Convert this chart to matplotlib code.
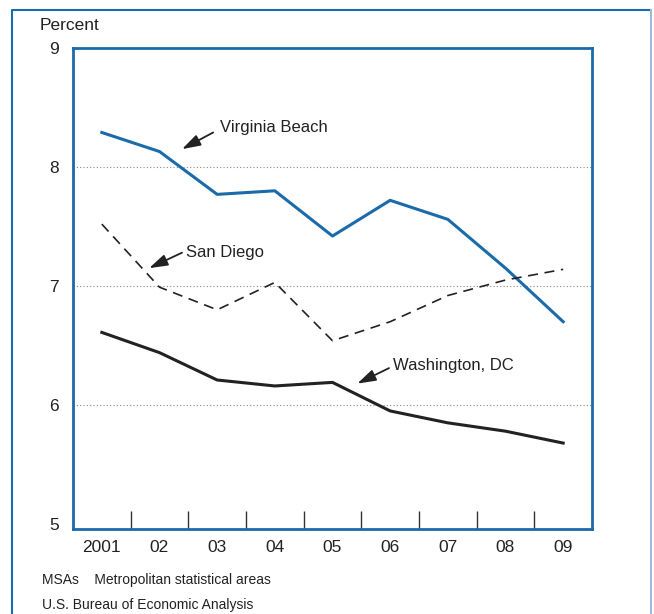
import matplotlib.pyplot as plt
import matplotlib.transforms as mtransforms
from matplotlib.lines import Line2D

# Data (percent)
years = ['2001', '02', '03', '04', '05', '06', '07', '08', '09']
virginia_beach = [8.29, 8.13, 7.77, 7.80, 7.42, 7.72, 7.56, 7.15, 6.70]
san_diego = [7.52, 6.99, 6.80, 7.03, 6.54, 6.70, 6.92, 7.05, 7.14]
washington_dc = [6.61, 6.44, 6.21, 6.16, 6.19, 5.95, 5.85, 5.78, 5.68]

blue = '#1b6aa9'
dark = '#222222'
plt.rcParams['font.family'] = ['Liberation Sans', 'DejaVu Sans']

fig = plt.figure(figsize=(6.54, 6.14), dpi=100)
W, H = 654, 614

# outer frame: blue left and top, pale right edge, open at the bottom
fx0, fx1, fy = 12 / W, 651 / W, 1 - 10 / H
fig.add_artist(Line2D([fx0, fx0, fx1], [0, fy, fy], transform=fig.transFigure,
                      color=blue, linewidth=1.5))
fig.add_artist(Line2D([fx1, fx1], [fy, 0], transform=fig.transFigure,
                      color='#9dbbd6', linewidth=1.5))

ax = fig.add_axes([73 / W, 1 - 529 / H, (592 - 73) / W, (529 - 48) / H])
x = list(range(len(years)))

ax.plot(x, virginia_beach, color=blue, linewidth=2.2)
ax.plot(x, san_diego, color=dark, linewidth=1.2, dashes=(6, 4))
ax.plot(x, washington_dc, color=dark, linewidth=2.2)

ax.set_xlim(-0.5, 8.5)
ax.set_ylim(5 - 5 / 119, 9)
ax.set_yticks([5, 6, 7, 8, 9])
ax.set_yticklabels(['5', '6', '7', '8', '9'])
for yv in [6, 7, 8]:
    ax.axhline(yv, color='#888888', linewidth=0.8, linestyle=(0, (1, 2)), zorder=0)

ax.set_xticks([i + 0.5 for i in range(len(years) - 1)])
ax.set_xticklabels([])
ax.tick_params(axis='x', direction='in', length=13, width=1, color='#333333')
ax.tick_params(axis='y', length=0, pad=10, labelsize=12.5, labelcolor=dark)
offset = mtransforms.ScaledTranslation(0, -19 / 100, fig.dpi_scale_trans)
for i, lab in enumerate(years):
    ax.text(i, 0, lab, transform=ax.get_xaxis_transform() + offset,
            ha='center', va='center', fontsize=12.5, color=dark)

for sp in ax.spines.values():
    sp.set_color(blue)
    sp.set_linewidth(2)

# labels and arrows
arrow = dict(arrowstyle='-|>,head_length=0.8,head_width=0.25', color=dark,
             lw=1.3, mutation_scale=14, shrinkA=0, shrinkB=0)
ax.annotate('', xy=(1.39, 8.15), xytext=(1.93, 8.29), arrowprops=arrow)
ax.annotate('', xy=(0.82, 7.15), xytext=(1.39, 7.28), arrowprops=arrow)
ax.annotate('', xy=(4.43, 6.18), xytext=(4.98, 6.31), arrowprops=arrow)
ax.text(2.05, 8.33, 'Virginia Beach', fontsize=12, color=dark, va='center')
ax.text(1.46, 7.28, 'San Diego', fontsize=12, color=dark, va='center')
ax.text(5.05, 6.33, 'Washington, DC', fontsize=12, color=dark, va='center')

fig.text(40 / W, 1 - 25 / H, 'Percent', fontsize=12.5, color=dark,
         ha='left', va='center')
fig.text(42 / W, 1 - 580 / H, 'MSAs    Metropolitan statistical areas',
         fontsize=10, color=dark, ha='left', va='center')
fig.text(42 / W, 1 - 605 / H, 'U.S. Bureau of Economic Analysis',
         fontsize=10, color=dark, ha='left', va='center')

fig.savefig('out.png', dpi=100, facecolor='white')
